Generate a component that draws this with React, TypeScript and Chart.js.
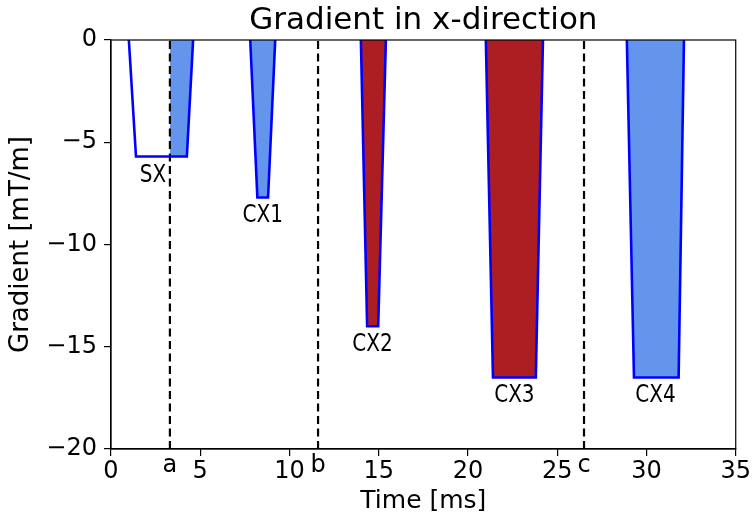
import React, { useEffect, useRef } from "react";
import { Chart, registerables } from "chart.js";

Chart.register(...registerables);

// Pulse data: time corners (start, ramp-down end, ramp-up start, end) and amplitudes
const pulseNames = ["SX", "CX1", "CX2", "CX3", "CX4"];
const pulseTimes = [
  [1.0, 1.4, 4.25, 4.6],
  [7.8, 8.2, 8.8, 9.2],
  [14.0, 14.35, 14.97, 15.4],
  [21.0, 21.4, 23.8, 24.2],
  [28.9, 29.3, 31.8, 32.1],
];
const pulseAmps = [-5.7, -7.7, -14, -16.5, -16.5];
const pulseFillKinds = ["partial", "blue", "red", "red", "blue"];
const pulseLabelX = [2.35, 8.5, 14.65, 22.6, 30.5];

const markerNames = ["a", "b", "c"];
const markerTimes = [3.3, 11.6, 26.5];

const xTicks = [0, 5, 10, 15, 20, 25, 30, 35];
const yTicks = [-20, -15, -10, -5, 0];

const BLUE_FILL = "#6495ED";
const RED_FILL = "#AC1E22";
const EDGE = "#0000FF";
const FONT = "'DejaVu Sans', sans-serif";

export default function App() {
  const ref = useRef<HTMLCanvasElement | null>(null);

  useEffect(() => {
    document.body.style.margin = "0";
    const canvas = ref.current;
    if (!canvas) return;

    const datasets: any[] = [];
    pulseTimes.forEach((t, i) => {
      const amp = pulseAmps[i];
      const kind = pulseFillKinds[i];
      const outline = [
        { x: t[0], y: 0 },
        { x: t[1], y: amp },
        { x: t[2], y: amp },
        { x: t[3], y: 0 },
      ];
      const fillData =
        kind === "partial"
          ? [
              { x: markerTimes[0], y: 0 },
              { x: markerTimes[0], y: amp },
              { x: t[2], y: amp },
              { x: t[3], y: 0 },
            ]
          : outline;
      datasets.push({
        data: fillData,
        borderWidth: 0,
        borderColor: "rgba(0,0,0,0)",
        backgroundColor: kind === "red" ? RED_FILL : BLUE_FILL,
        fill: "origin",
        pointRadius: 0,
        showLine: true,
        order: 2,
      });
      datasets.push({
        data: outline,
        borderWidth: 2.6,
        borderColor: EDGE,
        backgroundColor: EDGE,
        fill: false,
        pointRadius: 0,
        showLine: true,
        order: 0,
      });
    });
    markerTimes.forEach((m) => {
      datasets.push({
        data: [
          { x: m, y: -20 },
          { x: m, y: 0 },
        ],
        borderWidth: 2.2,
        borderColor: "#000",
        borderDash: [8, 4.5],
        fill: false,
        pointRadius: 0,
        showLine: true,
        order: 1,
      });
    });

    const textPlugin = {
      id: "texts",
      afterDraw(chart: any) {
        const ctx = chart.ctx;
        const xs = chart.scales.x;
        const ys = chart.scales.y;
        const area = chart.chartArea;
        ctx.save();
        // frame
        ctx.strokeStyle = "#000";
        ctx.lineWidth = 1.2;
        ctx.strokeRect(area.left, area.top, area.right - area.left, area.bottom - area.top);
        // title
        ctx.fillStyle = "#000";
        ctx.font = `31px ${FONT}`;
        ctx.textAlign = "center";
        ctx.textBaseline = "alphabetic";
        ctx.fillText("Gradient in x-direction", (area.left + area.right) / 2, area.top - 11);
        // pulse labels (condensed)
        ctx.font = `25px ${FONT}`;
        ctx.textBaseline = "alphabetic";
        pulseNames.forEach((n, i) => {
          const px = xs.getPixelForValue(pulseLabelX[i]);
          const py = ys.getPixelForValue(pulseAmps[i]) + 25;
          ctx.save();
          ctx.translate(px, py);
          ctx.scale(0.8, 1);
          ctx.fillText(n, 0, 0);
          ctx.restore();
        });
        // marker labels
        ctx.font = `24px ${FONT}`;
        markerNames.forEach((n, i) => {
          ctx.fillText(n, xs.getPixelForValue(markerTimes[i]), area.bottom + 23);
        });
        ctx.restore();
      },
    };

    const minus = (v: any) => String(v).replace("-", "\u2212");

    const chart = new Chart(canvas, {
      type: "scatter",
      data: { datasets },
      options: {
        animation: false,
        responsive: false,
        maintainAspectRatio: false,
        layout: { padding: { top: 40, right: 14, left: 0, bottom: 0 } },
        plugins: {
          legend: { display: false },
          tooltip: { enabled: false },
          title: { display: false },
        },
        scales: {
          x: {
            type: "linear",
            min: 0,
            max: 35,
            afterBuildTicks: (s: any) => {
              s.ticks = xTicks.map((v) => ({ value: v }));
            },
            afterFit: (s: any) => {
              s.height = 74;
            },
            ticks: {
              color: "#000",
              font: { family: FONT, size: 24 },
              padding: 1,
              maxRotation: 0,
              callback: minus,
            },
            grid: {
              display: true,
              drawOnChartArea: false,
              drawTicks: true,
              tickLength: 7,
              color: "#000",
              lineWidth: 1.2,
            },
            border: { display: true, color: "#000", width: 1.2 },
            title: {
              display: true,
              text: "Time [ms]",
              color: "#000",
              font: { family: FONT, size: 25 },
              padding: { top: 0, bottom: 7 },
            },
          },
          y: {
            type: "linear",
            min: -20,
            max: 0,
            afterBuildTicks: (s: any) => {
              s.ticks = yTicks.map((v) => ({ value: v }));
            },
            afterFit: (s: any) => {
              s.width = 111;
            },
            ticks: {
              color: "#000",
              font: { family: FONT, size: 24 },
              padding: 7,
              callback: minus,
            },
            grid: {
              display: true,
              drawOnChartArea: false,
              drawTicks: true,
              tickLength: 7,
              color: "#000",
              lineWidth: 1.2,
            },
            border: { display: true, color: "#000", width: 1.2 },
            title: {
              display: true,
              text: "Gradient [mT/m]",
              color: "#000",
              font: { family: FONT, size: 26 },
              padding: { top: 6, bottom: 0 },
            },
          },
        },
      },
      plugins: [textPlugin],
    });

    return () => chart.destroy();
  }, []);

  return (
    <div style={{ width: 752, height: 523 }}>
      <canvas ref={ref} width={752} height={523} style={{ width: 752, height: 523, display: "block" }} />
    </div>
  );
}
